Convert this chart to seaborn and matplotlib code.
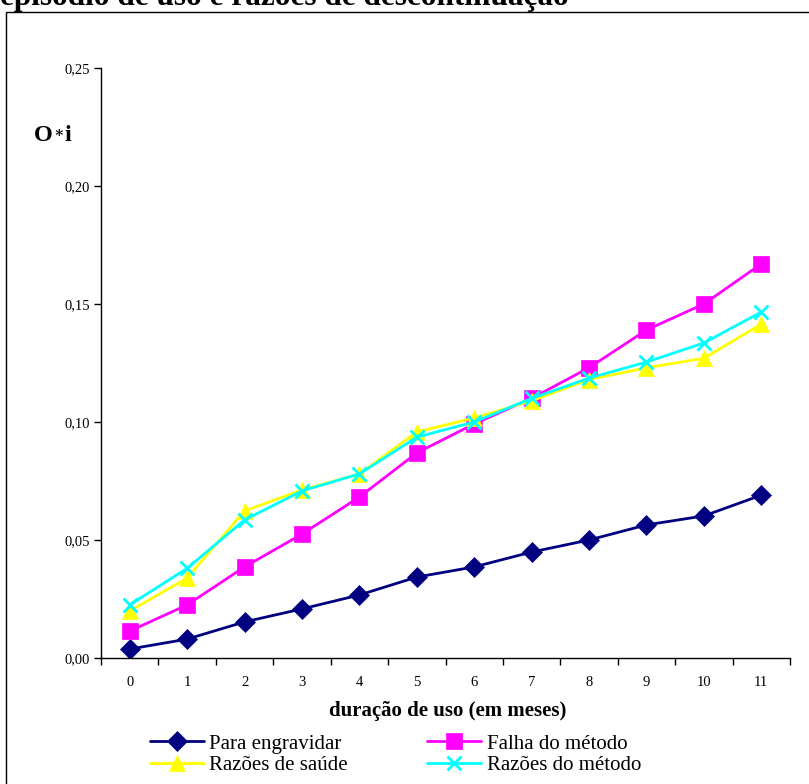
import matplotlib
matplotlib.use("Agg")
import matplotlib.pyplot as plt
import seaborn as sns
import pandas as pd
from matplotlib.patches import Rectangle
from matplotlib.lines import Line2D

sns.set_theme(style="white")
plt.rcParams['font.family'] = ['Liberation Serif', 'DejaVu Serif']
plt.rcParams['text.color'] = 'black'
plt.rcParams['xtick.color'] = 'black'
plt.rcParams['ytick.color'] = 'black'
plt.rcParams['axes.labelcolor'] = 'black'

months = list(range(12))
para_engravidar = [0.0038, 0.0080, 0.0153, 0.0208, 0.0267, 0.0343, 0.0386, 0.0449, 0.0500, 0.0564, 0.0602, 0.0690]
falha_metodo = [0.0114, 0.0225, 0.0386, 0.0525, 0.0682, 0.0869, 0.0992, 0.1100, 0.1230, 0.1390, 0.1500, 0.1670]
razoes_saude = [0.0199, 0.0339, 0.0623, 0.0712, 0.0780, 0.0958, 0.1017, 0.1090, 0.1180, 0.1230, 0.1270, 0.1415]
razoes_metodo = [0.0225, 0.0380, 0.0585, 0.0708, 0.0780, 0.0936, 0.1000, 0.1100, 0.1186, 0.1254, 0.1335, 0.1466]
y_ticks = [0.0, 0.05, 0.10, 0.15, 0.20, 0.25]
y_tick_labels = ["0,00", "0,05", "0,10", "0,15", "0,20", "0,25"]

series = [
    ("Para engravidar", para_engravidar, "#000080", "D", 10),
    ("Falha do método", falha_metodo, "#FF00FF", "s", 12),
    ("Razões de saúde", razoes_saude, "#FFFF00", "^", 12),
    ("Razões do método", razoes_metodo, "#00FFFF", "x", 10),
]

rows = []
for name, vals, *_ in series:
    for m, v in zip(months, vals):
        rows.append({"mes": m, "valor": v, "serie": name})
df = pd.DataFrame(rows)

fig = plt.figure(figsize=(8.09, 7.84), dpi=100)
ax = fig.add_axes([101/809, 1-658/784, (790-101)/809, (658-68)/784])

handles = {}
for name, vals, color, marker, ms in series:
    sub = df[df["serie"] == name]
    mew = 2 if marker == "x" else 0.5
    sns.lineplot(data=sub, x="mes", y="valor", ax=ax, color=color, marker=marker,
                 markersize=ms, markeredgecolor=color, markeredgewidth=mew,
                 linewidth=2, legend=False)
    handles[name] = Line2D([], [], color=color, marker=marker, markersize=ms,
                           markeredgecolor=color, markeredgewidth=mew, linewidth=2)

ax.set_xlim(-0.5, 11.5)
ax.set_ylim(0, 0.25)
ax.set_yticks(y_ticks)
ax.set_yticklabels(y_tick_labels)
ax.set_xticks([i - 0.5 for i in range(13)])
ax.set_xticklabels([])
ax.set_xticks(months, minor=True)
ax.set_xticklabels([str(m) for m in months], minor=True)
ax.tick_params(axis='x', which='major', direction='out', length=5, width=1, color='black')
ax.tick_params(axis='x', which='minor', length=0, pad=13, labelsize=10.5)
ax.tick_params(axis='y', direction='out', length=5, width=1, color='black', labelsize=10.5, pad=3)
ax.tick_params(left=True, bottom=True)
for s in ["top", "right"]:
    ax.spines[s].set_visible(False)
for s in ["left", "bottom"]:
    ax.spines[s].set_color("black")
    ax.spines[s].set_linewidth(1)
ax.set_xlabel("")
ax.set_ylabel("")
ax.grid(False)

fig.text(448/809, 1-711/784, "duração de uso (em meses)", fontsize=15, fontweight="bold",
         va="center", ha="center")

# y-axis label "O*i"
ylab_base = 1 - 141/784
fig.text(34/809, ylab_base, "O", fontsize=17.5, fontweight="bold", va="baseline", ha="left")
fig.text(53/809, 1 - 136/784, "\u2217", fontsize=11, fontweight="bold", va="baseline", ha="left",
         family=["DejaVu Serif"])
fig.text(64/809, ylab_base, "i", fontsize=17.5, fontweight="bold", va="baseline", ha="left")

fig.text(0, 1-5/784, "episódio de uso e razões de descontinuação", fontsize=22.5,
         fontweight="bold", va="baseline", ha="left")

fig.patches.append(Rectangle((6/809, -0.05), 1.1, 1-12/784+0.05, transform=fig.transFigure,
                             fill=False, edgecolor="black", linewidth=1))

leg_order = ["Para engravidar", "Razões de saúde", "Falha do método", "Razões do método"]
fig.legend([handles[n] for n in leg_order], leg_order, ncol=2, loc="upper left",
           bbox_to_anchor=(150/809, 1-734/784), frameon=False, fontsize=15,
           handlelength=2.6, handletextpad=0.25, columnspacing=3.8, labelspacing=0.08,
           borderpad=0, borderaxespad=0)

fig.savefig("out.png", dpi=100)
